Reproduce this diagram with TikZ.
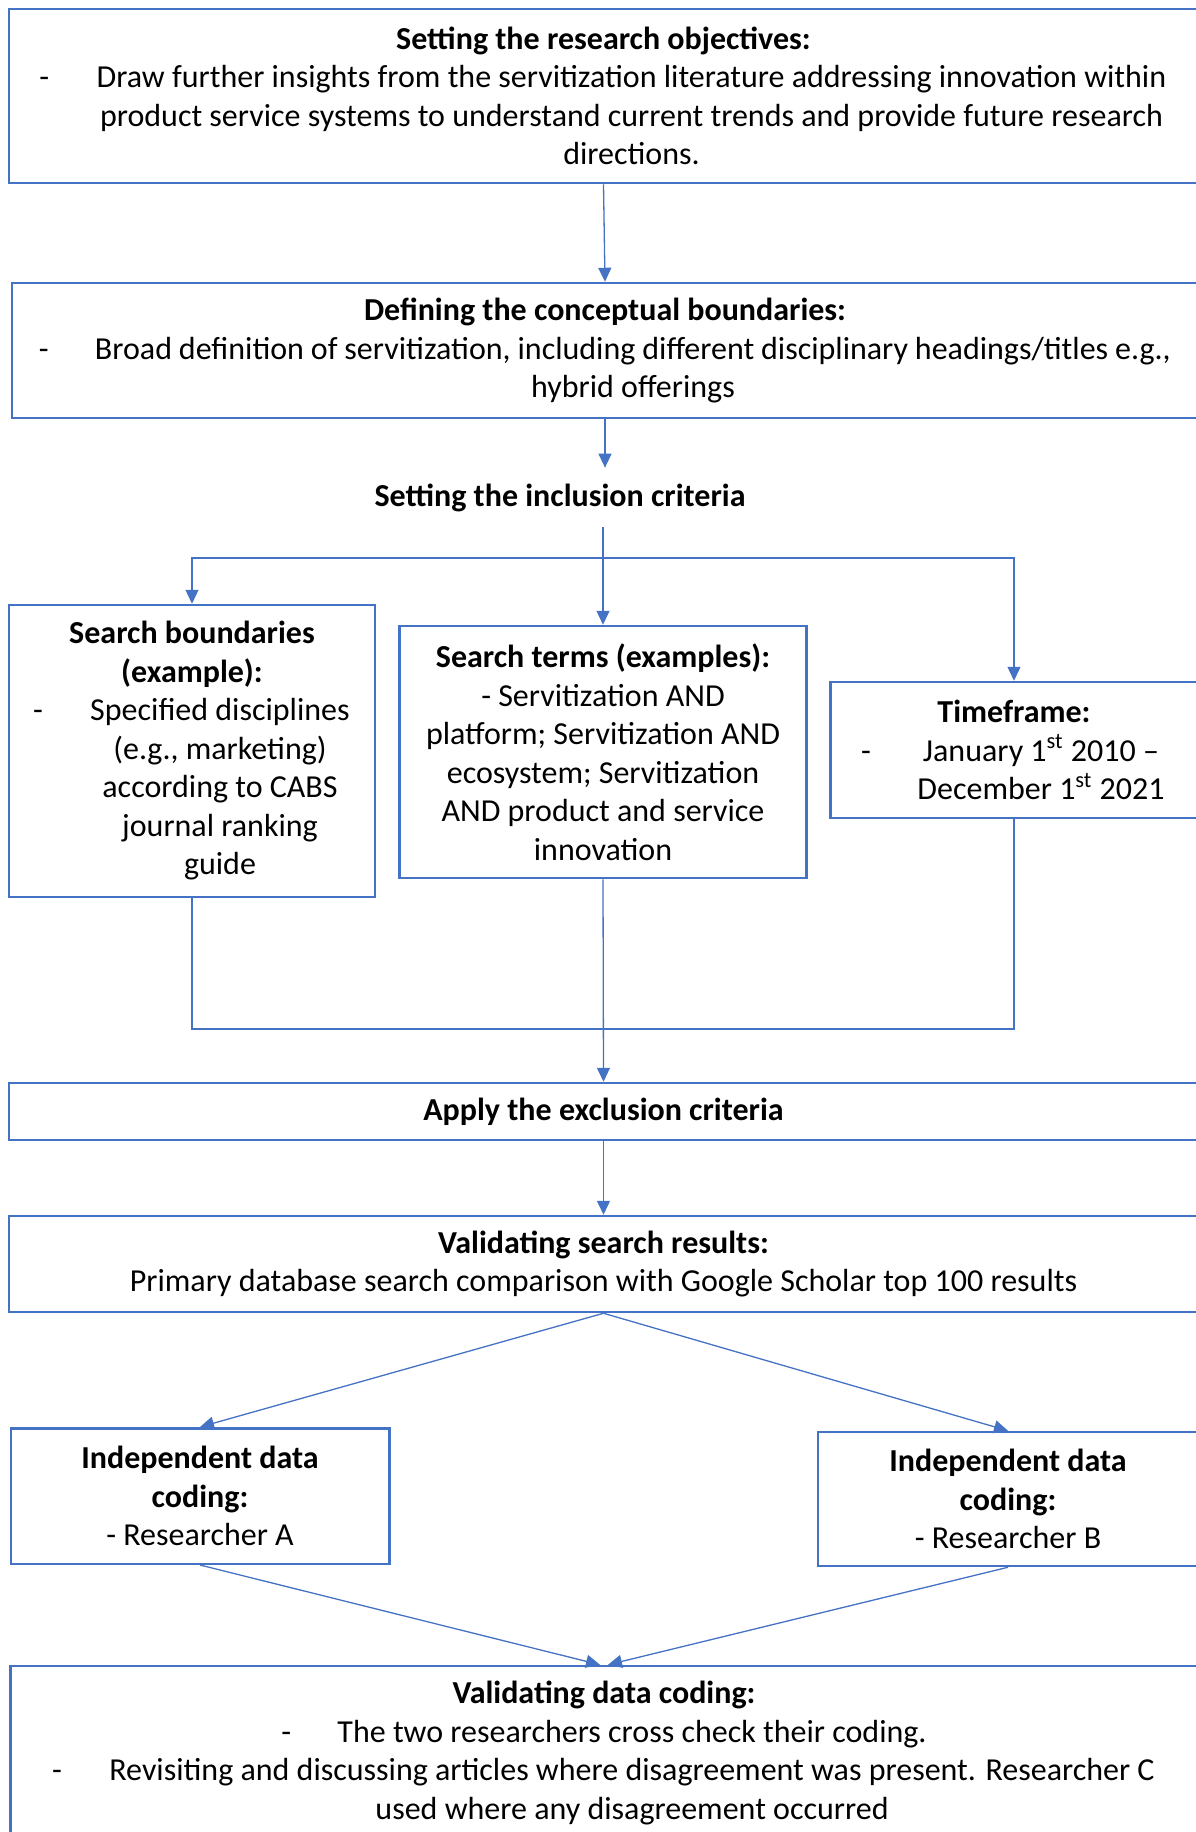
\documentclass[tikz,border=0pt]{standalone}
\usepackage{fontspec}
\setmainfont{Carlito}
\usepackage{tikz}
\usetikzlibrary{arrows.meta}
\definecolor{office-blue}{HTML}{4472C4}
\newcommand{\dashitem}[3]{\makebox[#1][l]{-}\parbox[t]{#2}{\centering #3}}
\tikzset{
    step-box/.style = {draw=office-blue, line width=1.25pt, rectangle, inner sep=0pt, align=center},
    flow-line/.style = {draw=office-blue, line width=0.65pt},
    flow-arrow/.style = {flow-line, -{Triangle[length=7pt,width=6.5pt]}},
}

\begin{document}
\begin{tikzpicture}[x=0.5pt, y=-0.5pt, font={\fontsize{16pt}{19.25pt}\selectfont}]
\useasboundingbox (0,0) rectangle (1195,1832);

\node[step-box, minimum width=594.5pt, minimum height=87pt] (objectives) at (603.5,96) {\textbf{Setting the research objectives:}\\
    \dashitem{28pt}{536pt}{Draw further insights from the servitization literature addressing innovation within\\product service systems to understand current trends and provide future research\\directions.}};
\node[step-box, minimum width=593pt, minimum height=67.5pt] (boundaries) at (605,350.5) {\textbf{Defining the conceptual boundaries:}\\
    \dashitem{28pt}{538pt}{Broad definition of servitization, including different disciplinary headings/titles e.g.,\\hybrid offerings}};
\node[inner xsep=0pt, inner ysep=7.75pt] (inclusion) at (560,497.5) {\textbf{Setting the inclusion criteria}};

\node[step-box, minimum width=183pt, minimum height=146pt] (bounds) at (192,751) {\textbf{Search boundaries}\\\textbf{(example):}\\
    \dashitem{28pt}{131pt}{Specified disciplines\\(e.g., marketing)\\according to CABS\\journal ranking\\guide}};
\node[step-box, minimum width=203.5pt, minimum height=126pt] (terms) at (603,752) {\textbf{Search terms (examples):}\\- Servitization AND\\platform; Servitization AND\\ecosystem; Servitization\\AND product and service\\innovation};
\node[step-box, minimum width=183.75pt, minimum height=68pt] (timeframe) at (1014,750) {\textbf{Timeframe:}\\
    \dashitem{27pt}{126pt}{January 1\textsuperscript{st} 2010 --\\December 1\textsuperscript{st} 2021}};

\node[step-box, minimum width=594.5pt, minimum height=28.5pt] (exclusion) at (603.5,1111.5) {\textbf{Apply the exclusion criteria}};
\node[step-box, minimum width=594.5pt, minimum height=48pt] (search-check) at (603.5,1264) {\textbf{Validating search results:}\\Primary database search comparison with Google Scholar top 100 results};

\node[step-box, minimum width=189.25pt, minimum height=67.75pt] (coder-a) at (200,1496) {\textbf{Independent data}\\\textbf{coding:}\\- Researcher A};
\node[step-box, minimum width=190.2pt, minimum height=67pt] (coder-b) at (1008,1499) {\textbf{Independent data}\\\textbf{coding:}\\- Researcher B};

\node[step-box, minimum width=593.75pt, minimum height=87pt] (coding-check) at (604,1753) {\textbf{Validating data coding:}\\
    \makebox[28pt][l]{-}The two researchers cross check their coding.\\
    \dashitem{28pt}{524pt}{Revisiting and discussing articles where disagreement was present. Researcher C\\used where any disagreement occurred}};

\coordinate (fork) at (603,558);
\coordinate (join) at (603,1029);

\draw[flow-arrow] (objectives.south) -- (boundaries.north);
\draw[flow-arrow] (boundaries.south) -- (boundaries.south |- inclusion.north);
\draw[flow-arrow] (terms.north |- inclusion.south) -- (terms.north);
\draw[flow-arrow] (fork) -| (bounds.north);
\draw[flow-arrow] (fork) -| (timeframe.north);
\draw[flow-line] (bounds.south) |- (join) -| (timeframe.south);
\draw[flow-arrow] (terms.south) -- (exclusion.north);
\draw[flow-arrow] (exclusion.south) -- (search-check.north);
\draw[flow-arrow] (search-check.south) -- (coder-a.north);
\draw[flow-arrow] (search-check.south) -- (coder-b.north);
\draw[flow-arrow] (coder-a.south) -- ([xshift=-2pt]coding-check.north);
\draw[flow-arrow] (coder-b.south) -- ([xshift=2pt]coding-check.north);
\end{tikzpicture}
\end{document}
